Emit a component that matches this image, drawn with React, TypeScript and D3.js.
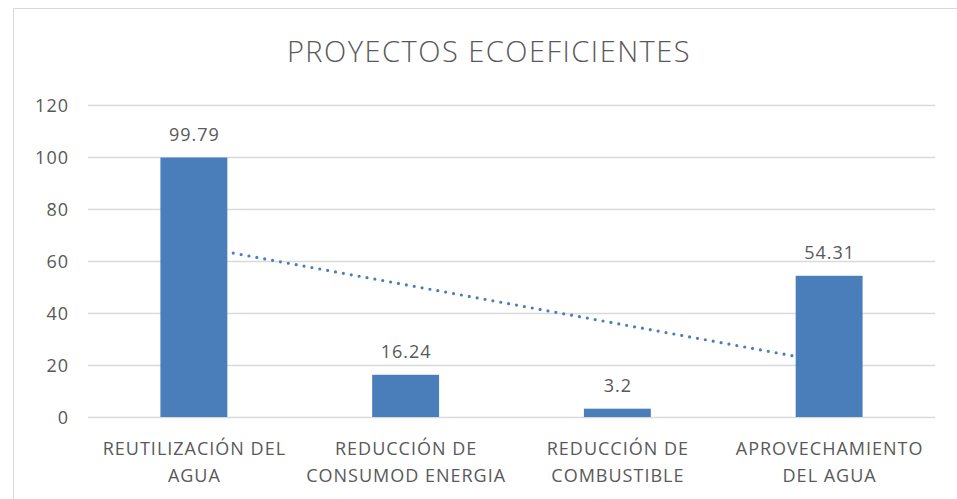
import React from "react";
import * as d3 from "d3";

const categories: string[][] = [
  ["REUTILIZACIÓN DEL", "AGUA"],
  ["REDUCCIÓN DE", "CONSUMOD ENERGIA"],
  ["REDUCCIÓN DE", "COMBUSTIBLE"],
  ["APROVECHAMIENTO", "DEL AGUA"],
];
const values: number[] = [99.79, 16.24, 3.2, 54.31];
const valueLabels: string[] = ["99.79", "16.24", "3.2", "54.31"];
const yTicks: number[] = [0, 20, 40, 60, 80, 100, 120];
const title = "PROYECTOS ECOEFICIENTES";

const W = 957;
const H = 499;
const FONT = "'Open Sans', sans-serif";
const TEXT = "#595959";
const BAR = "#4a7ebb";

export default function App() {
  const left = 88, right = 935, top = 105, bottom = 417;
  const x = d3.scaleBand<number>().domain(d3.range(values.length)).range([left, right]).paddingInner(0.684).paddingOuter(0.342);
  const y = d3.scaleLinear().domain([0, 120]).range([bottom, top]);
  const cx = (i: number) => (x(i) as number) + x.bandwidth() / 2;

  // linear trendline (least squares on x = 1..n)
  const xs = values.map((_, i) => i + 1);
  const mx = d3.mean(xs) as number;
  const my = d3.mean(values) as number;
  const slope = d3.sum(xs.map((xi, i) => (xi - mx) * (values[i] - my))) / d3.sum(xs.map((xi) => (xi - mx) ** 2));
  const icpt = my - slope * mx;
  const trend = d3.line<number>().x((i) => cx(i)).y((i) => y(icpt + slope * (i + 1)));

  const ls = 1; // letter spacing for small labels
  const label = (t: string, xx: number, yy: number, anchor: string, key?: any) => (
    <text key={key} x={xx + (anchor === "middle" ? ls / 2 : anchor === "end" ? ls : 0)} y={yy} textAnchor={anchor as any} fontFamily={FONT} fontSize={18} letterSpacing={ls} fill={TEXT}>
      {t}
    </text>
  );

  return (
    <svg width={W} height={H} style={{ position: "absolute", left: 0, top: 0 }}>
      <rect x={0} y={0} width={W} height={H} fill="#fff" />
      <rect x={13.5} y={8.5} width={W} height={H} fill="#fff" stroke="#d9d9d9" strokeWidth={1} />
      <text x={489} y={62} textAnchor="middle" fontFamily={FONT} fontSize={29} letterSpacing={1.5} fill={TEXT} style={{ fontWeight: 300 }}>
        {title}
      </text>
      {yTicks.map((t) => (
        <g key={t}>
          <line x1={left} x2={right} y1={Math.round(y(t)) + 0.5} y2={Math.round(y(t)) + 0.5} stroke="#d9d9d9" strokeWidth={1.5} />
          {label(String(t), 68, y(t) + 6.5, "end")}
        </g>
      ))}
      <path
        d={trend([0, values.length - 1]) || ""}
        fill="none"
        stroke={BAR}
        strokeWidth={3.2}
        strokeDasharray="0 8"
        strokeLinecap="round"
      />
      {values.map((v, i) => (
        <g key={i}>
          <rect x={x(i)} y={y(v)} width={x.bandwidth()} height={y(0) - y(v)} fill={BAR} />
          {label(valueLabels[i], cx(i), y(v) - 17, "middle")}
          {categories[i].map((line, k) => label(line, cx(i), 455 + k * 27, "middle", k))}
        </g>
      ))}
    </svg>
  );
}
